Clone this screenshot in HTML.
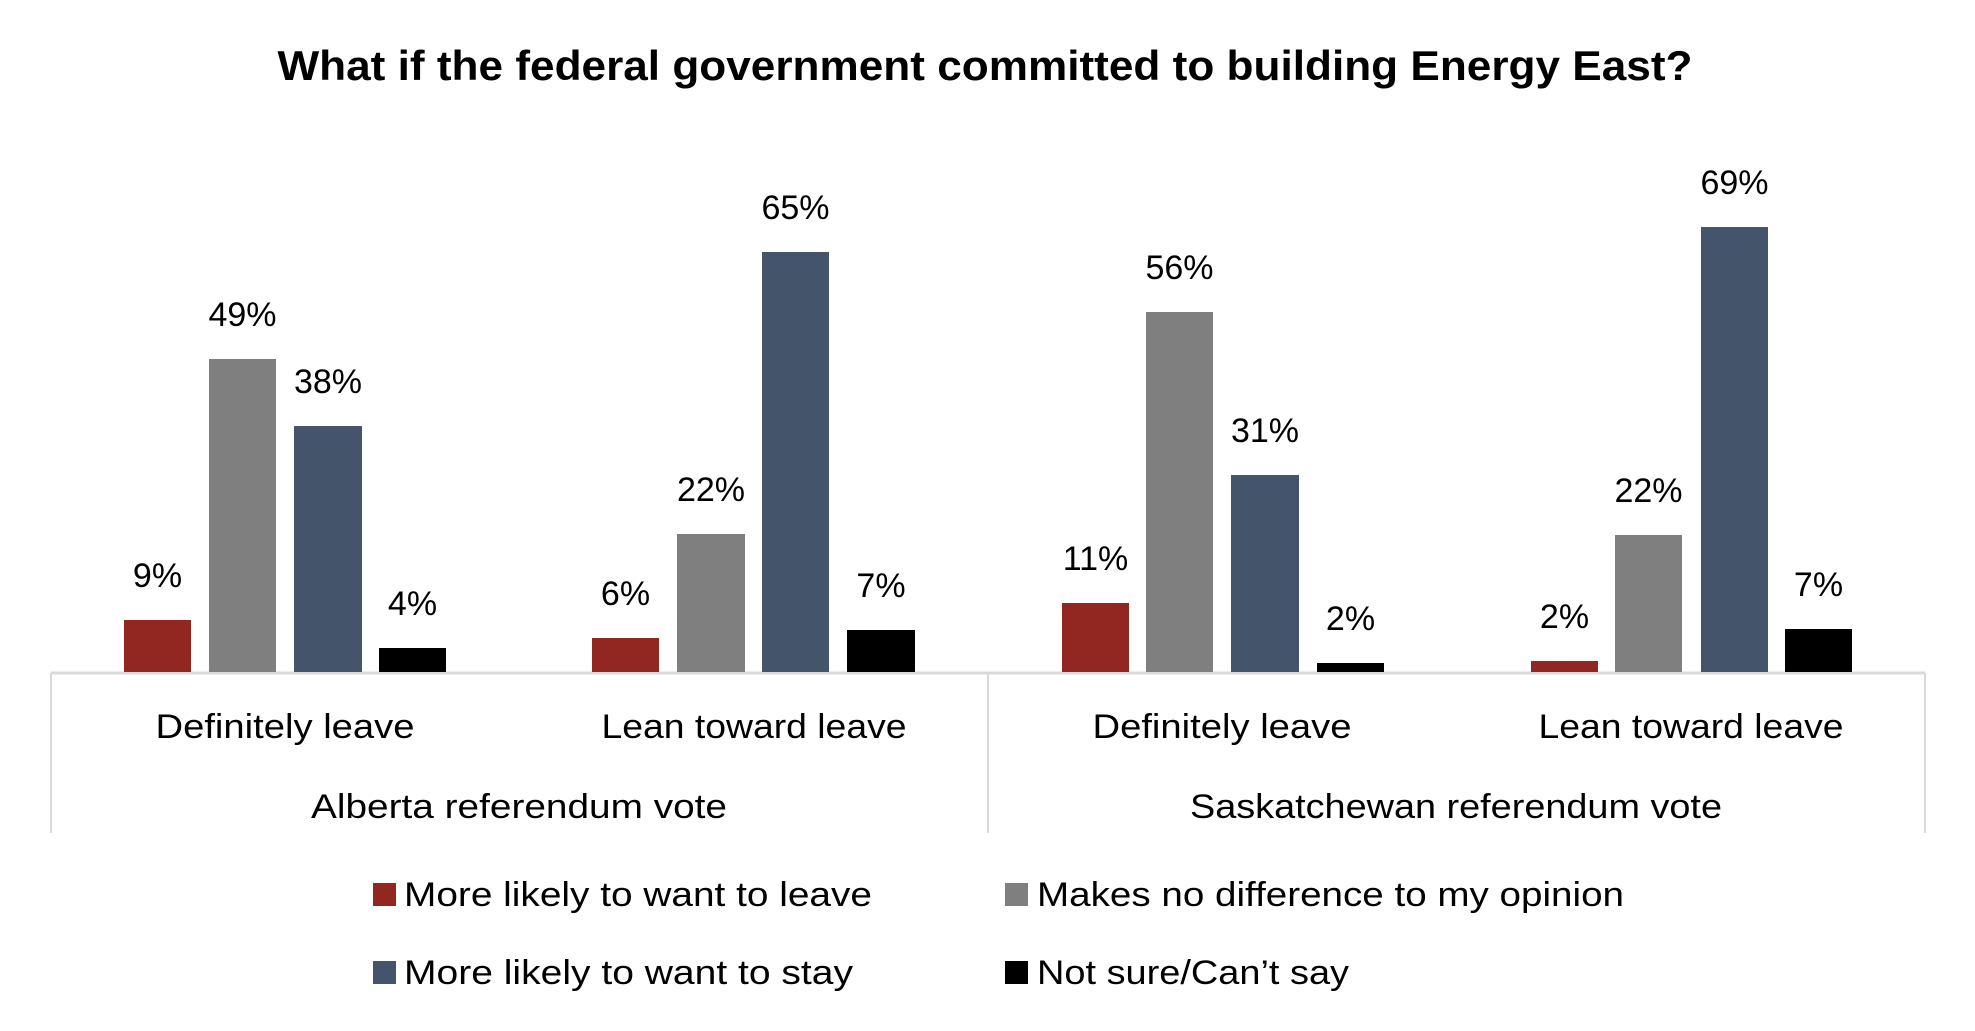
<!DOCTYPE html>
<html><head><meta charset="utf-8"><style>
html,body{margin:0;padding:0;background:#fff;}
svg{display:block;font-family:"Liberation Sans",sans-serif;}
</style></head><body>
<svg width="1975" height="1031" viewBox="0 0 1975 1031" xmlns="http://www.w3.org/2000/svg">
<text x="985" y="80" font-size="42" font-weight="bold" text-anchor="middle" textLength="1415" lengthAdjust="spacingAndGlyphs">What if the federal government committed to building Energy East?</text>
<line x1="51" y1="673" x2="1925" y2="673" stroke="#d9d9d9" stroke-width="3"/>
<line x1="51" y1="673" x2="51" y2="833" stroke="#d9d9d9" stroke-width="2"/>
<line x1="988" y1="673" x2="988" y2="833" stroke="#d9d9d9" stroke-width="2"/>
<line x1="1925" y1="673" x2="1925" y2="833" stroke="#d9d9d9" stroke-width="2"/>
<g font-size="34" text-anchor="middle">
<text x="285" y="738" textLength="259" lengthAdjust="spacingAndGlyphs">Definitely leave</text>
<text x="754" y="738" textLength="305" lengthAdjust="spacingAndGlyphs">Lean toward leave</text>
<text x="1222" y="738" textLength="259" lengthAdjust="spacingAndGlyphs">Definitely leave</text>
<text x="1691" y="738" textLength="305" lengthAdjust="spacingAndGlyphs">Lean toward leave</text>
<text x="519" y="818" textLength="416" lengthAdjust="spacingAndGlyphs">Alberta referendum vote</text>
<text x="1456" y="818" textLength="532" lengthAdjust="spacingAndGlyphs">Saskatchewan referendum vote</text>
</g>
<g font-size="34">
<rect x="373" y="883" width="23" height="23" fill="#922722"/>
<text x="404" y="906" textLength="468" lengthAdjust="spacingAndGlyphs">More likely to want to leave</text>
<rect x="1005" y="883" width="23" height="23" fill="#7f7f7f"/>
<text x="1037" y="906" textLength="587" lengthAdjust="spacingAndGlyphs">Makes no difference to my opinion</text>
<rect x="373" y="961" width="23" height="23" fill="#44546a"/>
<text x="404" y="984" textLength="449" lengthAdjust="spacingAndGlyphs">More likely to want to stay</text>
<rect x="1005" y="961" width="23" height="23" fill="#000"/>
<text x="1037" y="984" textLength="312" lengthAdjust="spacingAndGlyphs">Not sure/Can’t say</text>
</g>
<g font-size="34" text-anchor="middle">
<rect x="124" y="620" width="67" height="52" fill="#922722"/><text x="157.5" y="587">9%</text>
<rect x="209" y="359" width="67" height="313" fill="#7f7f7f"/><text x="242.5" y="326">49%</text>
<rect x="294" y="426" width="68" height="246" fill="#44546a"/><text x="328" y="393">38%</text>
<rect x="379" y="648" width="67" height="24" fill="#000"/><text x="412.5" y="615">4%</text>

<rect x="592" y="638" width="67" height="34" fill="#922722"/><text x="625.5" y="605">6%</text>
<rect x="677" y="534" width="68" height="138" fill="#7f7f7f"/><text x="711" y="501">22%</text>
<rect x="762" y="252" width="67" height="420" fill="#44546a"/><text x="795.5" y="219">65%</text>
<rect x="847" y="630" width="68" height="42" fill="#000"/><text x="881" y="597">7%</text>

<rect x="1062" y="603" width="67" height="69" fill="#922722"/><text x="1095.5" y="570">11%</text>
<rect x="1146" y="312" width="67" height="360" fill="#7f7f7f"/><text x="1179.5" y="279">56%</text>
<rect x="1231" y="475" width="68" height="197" fill="#44546a"/><text x="1265" y="442">31%</text>
<rect x="1317" y="663" width="67" height="9" fill="#000"/><text x="1350.5" y="630">2%</text>

<rect x="1531" y="661" width="67" height="11" fill="#922722"/><text x="1564.5" y="628">2%</text>
<rect x="1615" y="535" width="67" height="137" fill="#7f7f7f"/><text x="1648.5" y="502">22%</text>
<rect x="1701" y="227" width="67" height="445" fill="#44546a"/><text x="1734.5" y="194">69%</text>
<rect x="1785" y="629" width="67" height="43" fill="#000"/><text x="1818.5" y="596">7%</text>
</g>
</svg>
</body></html>
